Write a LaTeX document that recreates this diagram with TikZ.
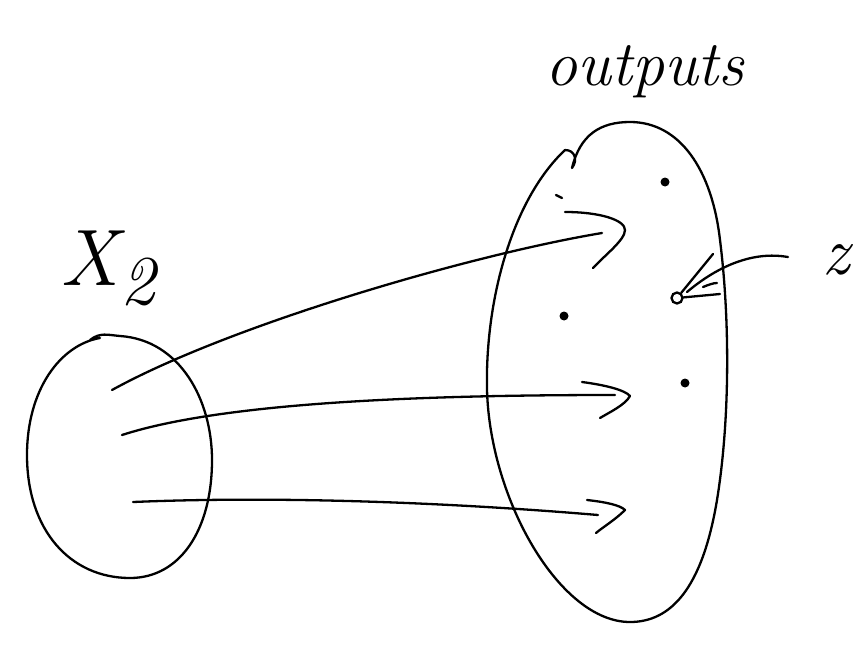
\documentclass[tikz,border=0pt]{standalone}
\usepackage{fontspec}
\begin{document}
\begin{tikzpicture}[x=1pt,y=-1pt,
  pen/.style={line width=2.3pt,line cap=round,line join=round,black},
  hand/.style={font=\itshape\fontsize{#1}{#1}\selectfont,anchor=base,inner sep=0pt},
  dotmark/.style={circle,fill=black,inner sep=0pt,minimum size=9pt}]
\useasboundingbox (0,0) rectangle (853,658);
% left set
\draw[pen] (90,340) .. controls (100,332) and (108,335) .. (120,336)
  .. controls (180,340) and (212,400) .. (212,460)
  .. controls (212,530) and (180,578) .. (130,578)
  .. controls (70,578) and (27,530) .. (27,455)
  .. controls (27,390) and (60,345) .. (100,338);
% right set
\draw[pen] (565,150) .. controls (575,150) and (578,160) .. (572,168)
  .. controls (580,135) and (600,122) .. (630,122)
  .. controls (680,122) and (712,170) .. (720,240)
  .. controls (730,320) and (730,420) .. (717,500)
  .. controls (702,590) and (670,622) .. (630,622)
  .. controls (560,622) and (490,500) .. (487,390)
  .. controls (485,300) and (512,200) .. (565,150);
% arrows
\draw[pen] (112,390) .. controls (230,325) and (470,255) .. (602,233);
\draw[pen] (565,212) .. controls (600,212) and (625,220) .. (625,230)
  .. controls (625,240) and (605,255) .. (593,268);
\draw[pen] (122,435) .. controls (230,400) and (450,395) .. (615,395);
\draw[pen] (582,382) .. controls (605,385) and (625,390) .. (630,396)
  .. controls (625,405) and (610,412) .. (600,418);
\draw[pen] (133,502) .. controls (300,495) and (480,505) .. (598,515);
\draw[pen] (587,500) .. controls (605,502) and (620,505) .. (625,510)
  .. controls (615,520) and (603,527) .. (596,533);
\draw[pen] (556,195) -- (562,198);
% dots
\node[dotmark] (d1) at (665,182) {};
\node[dotmark] (d2) at (564,316) {};
\node[dotmark] (d3) at (685,383) {};
\node[circle,draw,line width=2.3pt,inner sep=0pt,minimum size=11pt] (zc) at (677,298) {};
% z pointer
\coordinate (zs) at (788,257);
\draw[pen] (zs) .. controls (760,252) and (725,260) .. (687,292);
\draw[pen] (713,254) -- (zc);
\draw[pen] (720,294) -- (zc);
\draw[pen] (703,287) .. controls (708,285) and (713,283) .. (717,283);
% labels
\node[hand=64] (lo) at (645,86) {outputs};
\node[hand=80,anchor=base west] (lx) at (60,285) {X};
\node[hand=70,anchor=base west] (lx2) at (120,304) {2};
\node[hand=68] (lz) at (836,274) {z};
\end{tikzpicture}
\end{document}
